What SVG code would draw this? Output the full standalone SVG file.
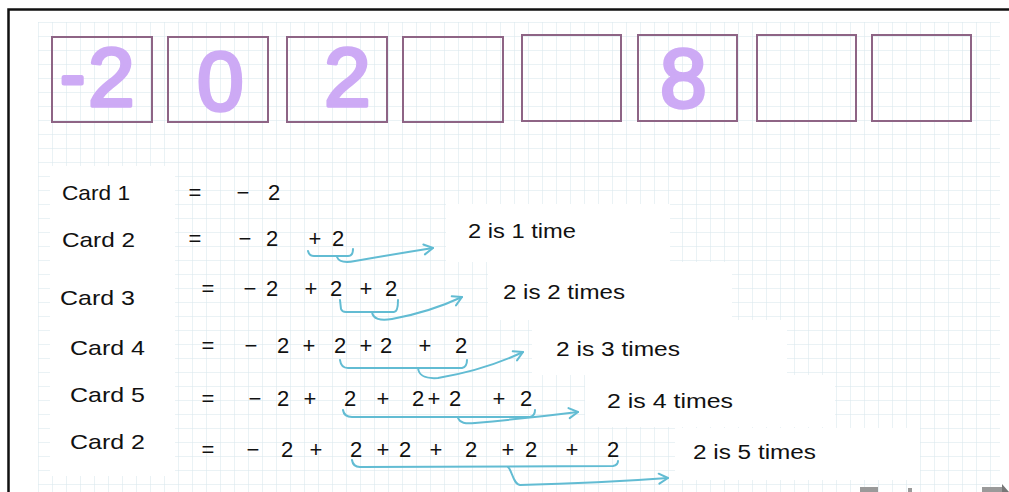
<svg xmlns="http://www.w3.org/2000/svg" width="1009" height="492" viewBox="0 0 1009 492">
<defs>
<pattern id="grid" x="38" y="22" width="14" height="14" patternUnits="userSpaceOnUse">
<path d="M14 0 L0 0 0 14" fill="none" stroke="#d6e5eb" stroke-width="1"/>
</pattern>
<marker id="chev" viewBox="-12 -7 14 14" markerWidth="14" markerHeight="14" refX="0" refY="0" orient="auto" markerUnits="userSpaceOnUse">
<path d="M-9,-5 L0,0 L-9,5" fill="none" stroke="#62bcd3" stroke-width="2" stroke-linecap="round" stroke-linejoin="round"/>
</marker>
<style>
.box{fill:none;stroke:#8e6485;stroke-width:2}
.big{font-family:"Liberation Sans",Arial,sans-serif;font-size:84px;fill:#cdaaf5;stroke:#cdaaf5;stroke-width:3.5;stroke-linejoin:round;stroke-linecap:round}
.lbl{font-family:"Liberation Sans",Arial,sans-serif;font-size:21px;fill:#111}
.eq{font-family:"Liberation Sans",Arial,sans-serif;font-size:22px;fill:#111;text-anchor:middle}
.res{font-family:"Liberation Sans",Arial,sans-serif;font-size:20px;fill:#111}
.blue{fill:none;stroke:#62bcd3;stroke-width:2;stroke-linecap:round;stroke-linejoin:round}
</style>
</defs>
<rect width="1009" height="492" fill="#ffffff"/>
<rect x="38" y="22" width="962" height="470" fill="url(#grid)"/>
<!-- white patches -->
<g fill="#ffffff">
<rect x="50" y="166" width="125" height="310"/>
<rect x="446" y="204" width="224" height="58"/>
<rect x="488" y="262" width="244" height="58"/>
<rect x="532" y="320" width="255" height="55"/>
<rect x="585" y="375" width="250" height="52"/>
<rect x="675" y="428" width="245" height="52"/>
</g>
<!-- frame -->
<path d="M8.5,492 L8.5,9.5 L1009,9.5" fill="none" stroke="#111" stroke-width="2.5"/>
<!-- cards -->
<g id="card1"><rect class="box" x="52" y="37" width="100" height="85"/><text class="big" x="61" y="99" style="font-size:70px;stroke-width:5">-</text><text class="big" x="88" y="106">2</text></g>
<g id="card2"><rect class="box" x="168" y="37" width="100" height="85"/><text class="big" x="197" y="110">0</text></g>
<g id="card3"><rect class="box" x="287" y="37" width="100" height="85"/><text class="big" x="324" y="106">2</text></g>
<g id="card4"><rect class="box" x="403" y="37" width="100" height="85"/></g>
<g id="card5"><rect class="box" x="522" y="35" width="99" height="86"/></g>
<g id="card6"><rect class="box" x="638" y="35" width="99" height="86"/><text class="big" x="660" y="107">8</text></g>
<g id="card7"><rect class="box" x="757" y="35" width="99" height="86"/></g>
<g id="card8"><rect class="box" x="872" y="35" width="99" height="86"/></g>
<!-- labels -->
<g id="labels">
<text class="lbl" x="62" y="200" textLength="68" lengthAdjust="spacingAndGlyphs">Card 1</text>
<text class="lbl" x="62" y="247" textLength="73" lengthAdjust="spacingAndGlyphs">Card 2</text>
<text class="lbl" x="60" y="305" textLength="75" lengthAdjust="spacingAndGlyphs">Card 3</text>
<text class="lbl" x="70" y="355" textLength="75" lengthAdjust="spacingAndGlyphs">Card 4</text>
<text class="lbl" x="70" y="402" textLength="75" lengthAdjust="spacingAndGlyphs">Card 5</text>
<text class="lbl" x="70" y="449" textLength="75" lengthAdjust="spacingAndGlyphs">Card 2</text>
</g>
<!-- equations -->
<g id="eq1"><text class="eq" y="200"><tspan x="195">=</tspan><tspan x="243">−</tspan><tspan x="274">2</tspan></text></g>
<g id="eq2"><text class="eq" y="246"><tspan x="195">=</tspan><tspan x="245">−</tspan><tspan x="272">2</tspan><tspan x="315">+</tspan><tspan x="338">2</tspan></text></g>
<g id="eq3"><text class="eq" y="296"><tspan x="208">=</tspan><tspan x="250">−</tspan><tspan x="272">2</tspan><tspan x="311">+</tspan><tspan x="336">2</tspan><tspan x="366">+</tspan><tspan x="391">2</tspan></text></g>
<g id="eq4"><text class="eq" y="353"><tspan x="208">=</tspan><tspan x="251">−</tspan><tspan x="283">2</tspan><tspan x="309">+</tspan><tspan x="340">2</tspan><tspan x="366">+</tspan><tspan x="386">2</tspan><tspan x="425">+</tspan><tspan x="461">2</tspan></text></g>
<g id="eq5"><text class="eq" y="406"><tspan x="208">=</tspan><tspan x="255">−</tspan><tspan x="283">2</tspan><tspan x="310">+</tspan><tspan x="350">2</tspan><tspan x="383">+</tspan><tspan x="418">2</tspan><tspan x="434">+</tspan><tspan x="455">2</tspan><tspan x="499">+</tspan><tspan x="526">2</tspan></text></g>
<g id="eq6"><text class="eq" y="457"><tspan x="208">=</tspan><tspan x="253">−</tspan><tspan x="287">2</tspan><tspan x="316">+</tspan><tspan x="356">2</tspan><tspan x="383">+</tspan><tspan x="405">2</tspan><tspan x="436">+</tspan><tspan x="471">2</tspan><tspan x="508">+</tspan><tspan x="531">2</tspan><tspan x="572">+</tspan><tspan x="613">2</tspan></text></g>
<!-- results -->
<g id="res1"><text class="res" x="468" y="238" textLength="108" lengthAdjust="spacingAndGlyphs">2 is 1 time</text></g>
<g id="res2"><text class="res" x="503" y="299" textLength="122" lengthAdjust="spacingAndGlyphs">2 is 2 times</text></g>
<g id="res3"><text class="res" x="556" y="356" textLength="124" lengthAdjust="spacingAndGlyphs">2 is 3 times</text></g>
<g id="res4"><text class="res" x="607" y="408" textLength="126" lengthAdjust="spacingAndGlyphs">2 is 4 times</text></g>
<g id="res5"><text class="res" x="693" y="459" textLength="123" lengthAdjust="spacingAndGlyphs">2 is 5 times</text></g>
<!-- connectors -->
<g id="connectors" class="blue">
<path class="blue" d="M308,251 Q309,256 314,256 L348,256 Q353,256 353,249"/>
<path class="blue" d="M337,257 C339,262 345,263 355,261 Q395,254 433,248" marker-end="url(#chev)"/>
<path class="blue" d="M340,300 L341,309 Q342,312 346,312 L394,312 Q398,312 398,300"/>
<path class="blue" d="M372,312 C373,319 380,321 392,319 Q430,312 462,297" marker-end="url(#chev)"/>
<path class="blue" d="M340,360 Q341,368 348,368 L462,368 Q467,367 467,360"/>
<path class="blue" d="M418,368 C419,376 425,379 438,378 Q485,370 523,352" marker-end="url(#chev)"/>
<path class="blue" d="M343,410 Q344,417 352,417 L530,417 Q535,416 535,410"/>
<path class="blue" d="M458,418 C460,423 465,424 475,423 Q530,418 578,412" marker-end="url(#chev)"/>
<path class="blue" d="M352,460 Q353,467 360,467 L613,466 Q618,465 618,461"/>
<path class="blue" d="M508,467 C512,470 513,484 520,485 Q600,483 668,478" marker-end="url(#chev)"/>
</g>
<!-- bottom-right UI fragments -->
<g fill="#9a9a9a">
<rect x="860" y="487" width="18" height="5"/>
<rect x="908" y="488" width="4" height="4"/>
<rect x="982" y="487" width="20" height="5"/>
<path d="M1002,484 L1009,492 L1002,492 Z" fill="#777"/>
</g>
</svg>
